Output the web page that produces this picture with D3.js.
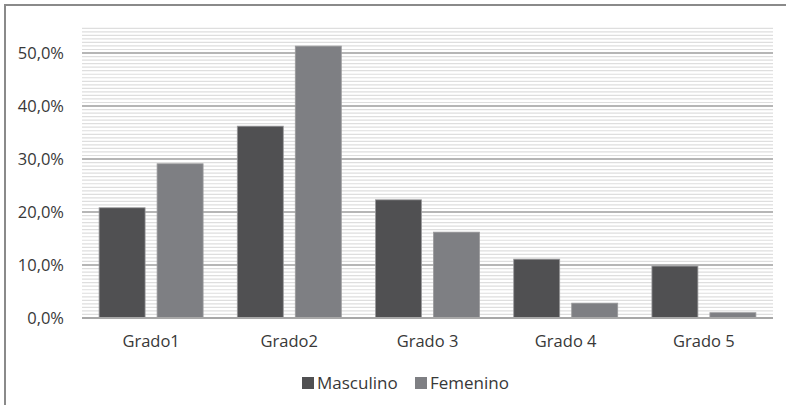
<!DOCTYPE html>
<html>
<head>
<meta charset="utf-8">
<script src="https://cdn.jsdelivr.net/npm/d3@7"></script>
<style>
  body { margin: 0; background: #fff; }
  svg { display: block; font-family: "Open Sans", sans-serif; }
</style>
</head>
<body>
<svg id="chart"></svg>
<script>
// data
const categories = ["Grado1", "Grado2", "Grado 3", "Grado 4", "Grado 5"];
const seriesNames = ["Masculino", "Femenino"];
const masculino = [0.208, 0.362, 0.223, 0.111, 0.098];
const femenino = [0.291, 0.513, 0.162, 0.028, 0.010];
const yTicks = [0, 0.1, 0.2, 0.3, 0.4, 0.5];

const width = 786, height = 405;
const colors = ["#505052", "#7e7f83"];
const margin = {top: 26, left: 82, right: 13, bottom: 87};

const svg = d3.select("#chart").attr("width", width).attr("height", height);

// outer frame (top and left edges only visible)
svg.append("path")
    .attr("d", `M5,${height} L5,5 L${width},5`)
    .attr("fill", "none")
    .attr("stroke", "#8a8a8a")
    .attr("stroke-width", 2);

const x0 = d3.scaleBand()
    .domain(categories)
    .range([margin.left, width - margin.right]);

const x1 = d3.scaleBand()
    .domain(seriesNames)
    .range([0, x0.bandwidth()])
    .paddingInner(0.207)
    .paddingOuter(0.295);

const y = d3.scaleLinear()
    .domain([0, 0.551])
    .range([height - margin.bottom, margin.top]);

// striped plot background
const stripes = svg.append("g");
const step = (y(0) - y(0.1)) / 15;
for (let yy = y(0) - step; yy >= margin.top - 0.5; yy -= step) {
    stripes.append("line")
        .attr("x1", margin.left).attr("x2", width - margin.right)
        .attr("y1", yy).attr("y2", yy)
        .attr("stroke", "#dedede")
        .attr("stroke-width", 1.2);
}

// gridlines
svg.append("g")
    .selectAll("line")
    .data(yTicks.slice(1))
    .enter().append("line")
    .attr("x1", margin.left).attr("x2", width - margin.right)
    .attr("y1", d => y(d)).attr("y2", d => y(d))
    .attr("stroke", "#b6b6b6")
    .attr("stroke-width", 2);

// y labels
const fmt = d => (d * 100).toFixed(1).replace(".", ",") + "%";
const yAxis = d3.axisLeft(y).tickValues(yTicks).tickFormat(fmt).tickSize(0).tickPadding(18);
svg.append("g")
    .attr("transform", `translate(${margin.left},0)`)
    .call(yAxis)
    .call(g => g.select(".domain").remove())
    .selectAll("text")
    .attr("font-family", "Open Sans, sans-serif")
    .attr("font-size", "16.5px")
    .attr("fill", "#383838");

// bars
const rows = categories.map((c, i) => ({cat: c, vals: [masculino[i], femenino[i]]}));
const groups = svg.append("g")
    .selectAll("g")
    .data(rows)
    .enter().append("g")
    .attr("transform", d => `translate(${x0(d.cat)},0)`);

groups.selectAll("rect")
    .data(d => d.vals.map((v, k) => ({name: seriesNames[k], v: v, k: k})))
    .enter().append("rect")
    .attr("x", d => x1(d.name))
    .attr("y", d => y(d.v))
    .attr("width", x1.bandwidth())
    .attr("height", d => y(0) - y(d.v))
    .attr("fill", d => colors[d.k])
    .attr("stroke", "#9a9a9c")
    .attr("stroke-width", 0.8);

// x baseline
svg.append("line")
    .attr("x1", margin.left).attr("x2", width - margin.right)
    .attr("y1", y(0)).attr("y2", y(0))
    .attr("stroke", "#a8a8a8")
    .attr("stroke-width", 2);

// x labels
const xAxis = d3.axisBottom(x0).tickSize(0).tickPadding(17);
svg.append("g")
    .attr("transform", `translate(0,${y(0)})`)
    .call(xAxis)
    .call(g => g.select(".domain").remove())
    .selectAll("text")
    .attr("font-family", "Open Sans, sans-serif")
    .attr("font-size", "16.5px")
    .attr("fill", "#383838");

// legend
const legendX = [302, 415];
const legend = svg.append("g")
    .selectAll("g")
    .data(seriesNames)
    .enter().append("g")
    .attr("transform", (d, i) => `translate(${legendX[i]},377)`);
legend.append("rect")
    .attr("width", 12).attr("height", 12)
    .attr("fill", (d, i) => colors[i]);
legend.append("text")
    .attr("x", 15).attr("y", 11.5)
    .attr("font-size", "17px")
    .attr("fill", "#383838")
    .text(d => d);
</script>
</body>
</html>
